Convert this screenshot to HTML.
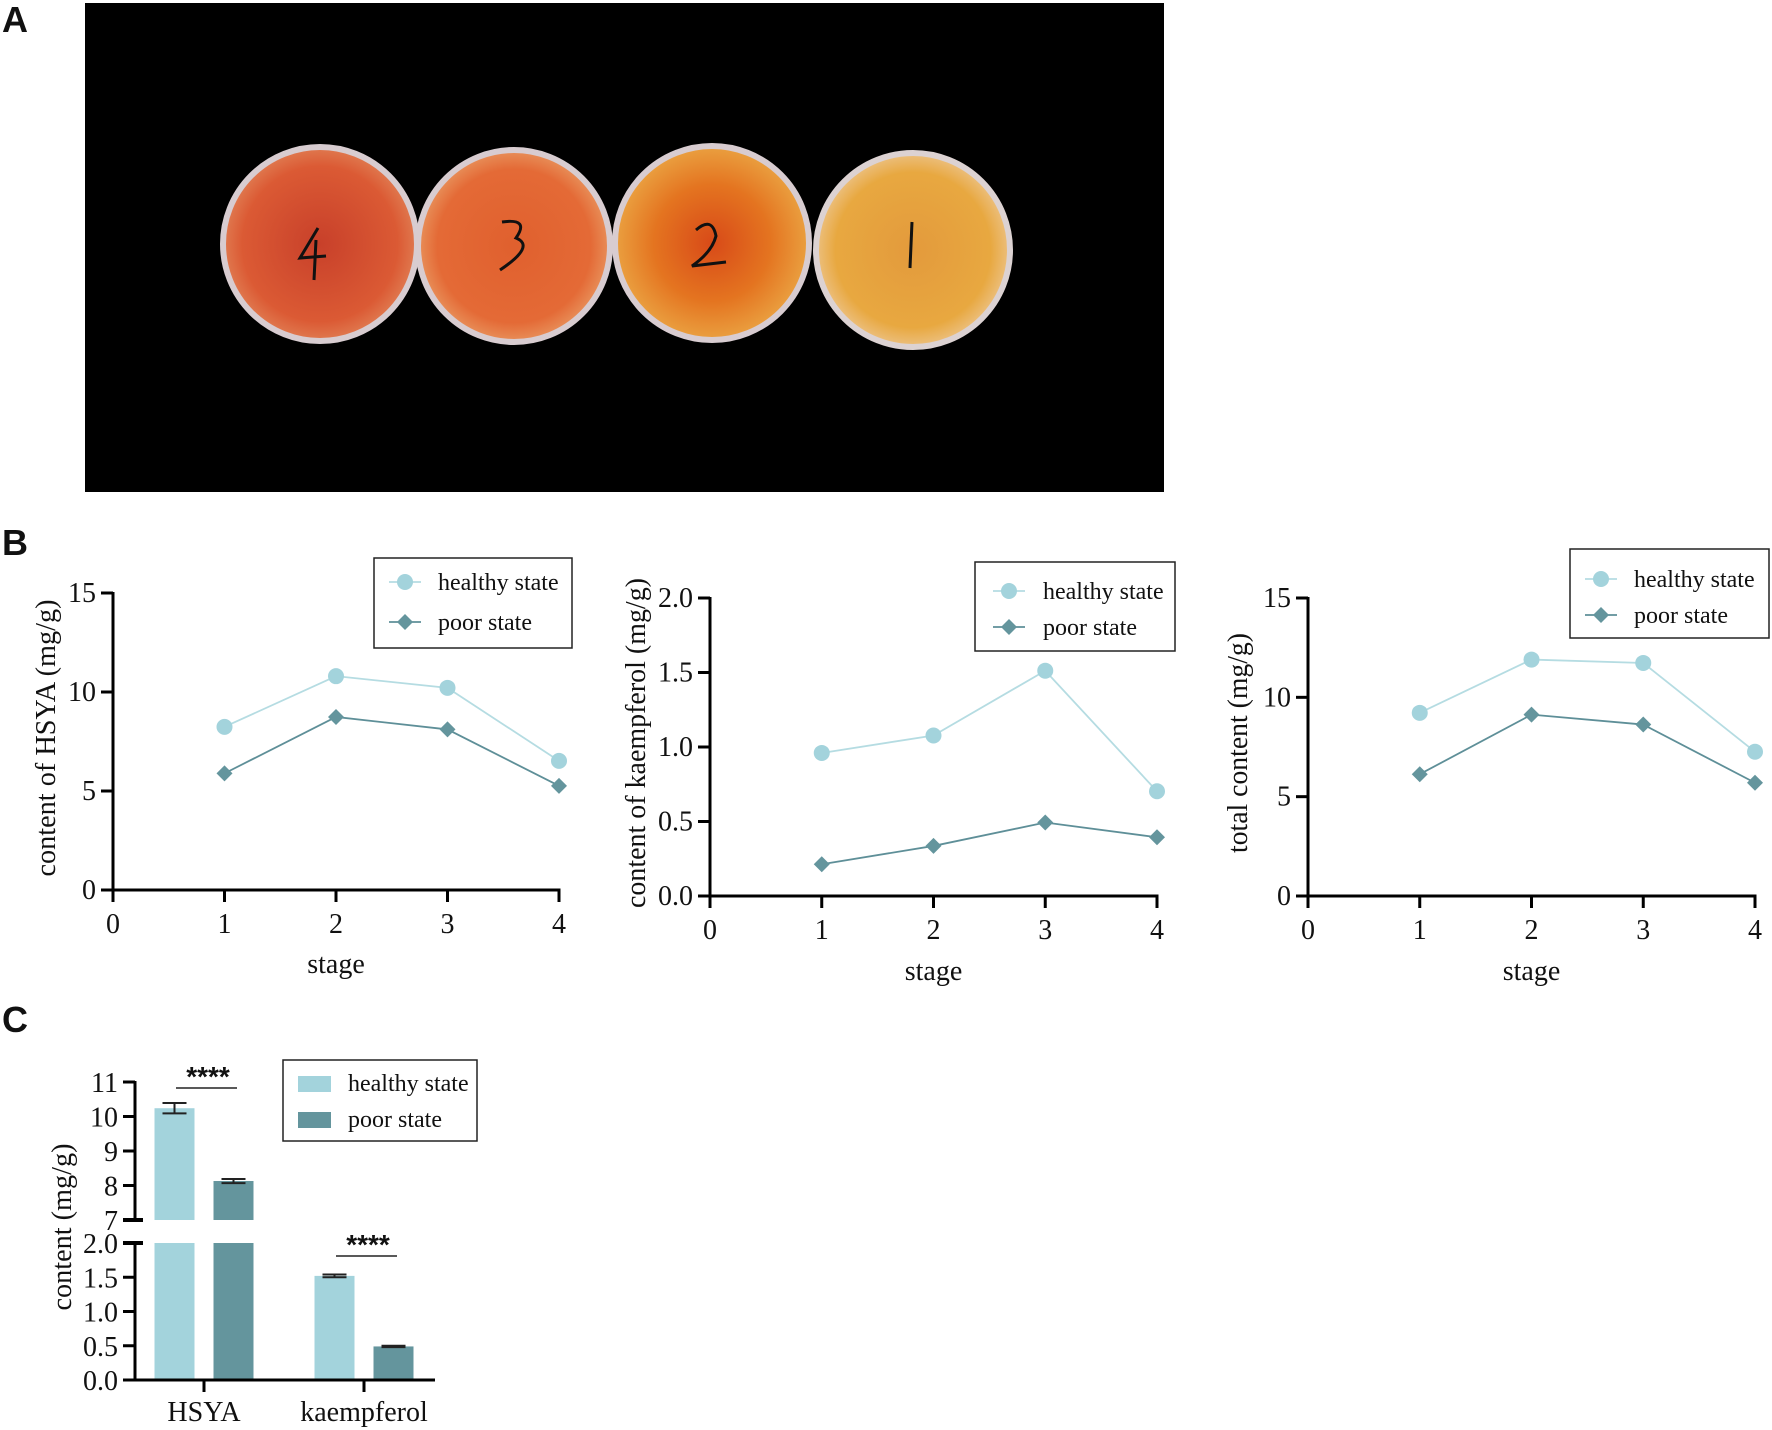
<!DOCTYPE html>
<html><head><meta charset="utf-8"><style>
html,body{margin:0;padding:0;background:#fff;}
svg{display:block;}
text{font-family:"Liberation Serif",serif;fill:#111;}
.pl{font-family:"Liberation Sans",sans-serif;font-weight:bold;font-size:36px;}
</style></head><body>
<svg id="fig" width="1772" height="1430" viewBox="0 0 1772 1430" xmlns="http://www.w3.org/2000/svg">
<defs>
<radialGradient id="g4"><stop offset="0" stop-color="#c8402a"/><stop offset="0.8" stop-color="#db5a34"/><stop offset="1" stop-color="#e07a50"/></radialGradient>
<radialGradient id="g3"><stop offset="0" stop-color="#e0602e"/><stop offset="0.8" stop-color="#e46a36"/><stop offset="1" stop-color="#e8905a"/></radialGradient>
<radialGradient id="g2"><stop offset="0" stop-color="#d84a18"/><stop offset="0.6" stop-color="#e47420"/><stop offset="1" stop-color="#eaa040"/></radialGradient>
<radialGradient id="g1"><stop offset="0" stop-color="#e39a3c"/><stop offset="0.8" stop-color="#e8a840"/><stop offset="1" stop-color="#ecc080"/></radialGradient>
</defs>
<text class="pl" x="2" y="32">A</text>
<g>
<rect x="85" y="3" width="1079" height="489" fill="#000"/>
<g><circle cx="320" cy="244" r="97" fill="url(#g4)" stroke="#d8ccd0" stroke-width="6"/><path d="M318 228 L300 258 L326 256 M316 240 L314 280" stroke="#111" stroke-width="3" fill="none"/></g>
<g><circle cx="514" cy="246" r="96" fill="url(#g3)" stroke="#d8ccd0" stroke-width="6"/><path d="M502 222 Q530 218 516 238 Q536 246 500 270" stroke="#111" stroke-width="3" fill="none"/></g>
<g><circle cx="712" cy="243" r="97" fill="url(#g2)" stroke="#d8ccd0" stroke-width="6"/><path d="M696 230 Q712 216 716 236 Q712 252 692 266 L726 262" stroke="#111" stroke-width="3" fill="none"/></g>
<g><circle cx="913" cy="250" r="97" fill="url(#g1)" stroke="#dcd2d2" stroke-width="6"/><path d="M912 222 L910 268" stroke="#111" stroke-width="3" fill="none"/></g>
</g>
<text class="pl" x="2" y="555">B</text>
<text class="pl" x="2" y="1032">C</text>
<g id="charts"></g>
</svg>
<script>
// ---------- Panel B data ----------
const stages = [1, 2, 3, 4];
const xTicks = [0, 1, 2, 3, 4];
const hsyaHealthy = [8.24, 10.8, 10.21, 6.52];
const hsyaPoor = [5.89, 8.74, 8.11, 5.26];
const kaeHealthy = [0.96, 1.077, 1.512, 0.703];
const kaePoor = [0.213, 0.336, 0.493, 0.394];
const totHealthy = [9.22, 11.9, 11.73, 7.26];
const totPoor = [6.13, 9.13, 8.63, 5.70];
const ticks15 = [0, 5, 10, 15];
const ticks2 = [0, 0.5, 1.0, 1.5, 2.0];
const tickLabels2 = ["0.0", "0.5", "1.0", "1.5", "2.0"];
// ---------- Panel C data ----------
const barCategories = ["HSYA", "kaempferol"];
const barHealthy = [10.24, 1.52];
const barPoor = [8.13, 0.49];
const errHealthy = [0.15, 0.02];
const errPoor = [0.06, 0.01];
const upperTicks = [7, 8, 9, 10, 11];
const lowerTicks = [0, 0.5, 1.0, 1.5, 2.0];
const lowerTickLabels = ["0.0", "0.5", "1.0", "1.5", "2.0"];
const sigLabels = ["****", "****"];

const NS = "http://www.w3.org/2000/svg";
const root = document.getElementById("charts");
const HC = "#a3d3dc", PC = "#64959d", HL = "#b5dce2", PL = "#5e8f98";
function mk(tag, attrs, parent) {
  const e = document.createElementNS(NS, tag);
  for (const k in attrs) e.setAttribute(k, attrs[k]);
  (parent || root).appendChild(e);
  return e;
}
function txt(s, attrs, parent) { const t = mk("text", attrs, parent); t.textContent = s; return t; }

function lineChart(cfg) {
  const g = mk("g", {});
  
  
  const X = v => cfg.x0 + (v - 0) * (cfg.x4 - cfg.x0) / 4;
  const Y = v => cfg.y0 - v * (cfg.y0 - cfg.yTop) / cfg.ymax;
  // axes
  const ya = mk("line", {x1: cfg.x0, y1: cfg.yTop - 1, x2: cfg.x0, y2: cfg.y0 + 1.5, stroke: "#000", "stroke-width": 3}, g);
  
  
  const xa = mk("line", {x1: cfg.x0 - 12, y1: cfg.y0, x2: cfg.x4 + 1.5, y2: cfg.y0, stroke: "#000", "stroke-width": 3}, g);
  
  
  cfg.yticks.forEach((v, i) => {
    mk("line", {x1: cfg.x0 - 12, y1: Y(v), x2: cfg.x0, y2: Y(v), stroke: "#000", "stroke-width": 3}, g);
    const t = txt(cfg.ylabels[i], {x: cfg.x0 - 17, y: Y(v) + 9, "font-size": 28, "text-anchor": "end"}, g);
    
    
  });
  xTicks.forEach(v => {
    mk("line", {x1: X(v), y1: cfg.y0, x2: X(v), y2: cfg.y0 + 12, stroke: "#000", "stroke-width": 3}, g);
    const t = txt(String(v), {x: X(v), y: cfg.y0 + 43, "font-size": 28, "text-anchor": "middle"}, g);
    
    
  });
  const xt = txt("stage", {x: (cfg.x0 + cfg.x4) / 2, y: cfg.stageY, "font-size": 28, "text-anchor": "middle"}, g);
  
  
  const yt = txt(cfg.ytitle, {x: 0, y: 0, "font-size": 28, "text-anchor": "middle", textLength: cfg.ylen, lengthAdjust: "spacingAndGlyphs",
    transform: `translate(${cfg.ylx + 9},${cfg.yly}) rotate(-90)`}, g);
  
  
  // series
  const series = [[cfg.healthy, HL, HC, "healthy"], [cfg.poor, PL, PC, "poor"]];
  series.forEach(([vals, lc, mc, nm]) => {
    const pts = stages.map((s, i) => X(s) + "," + Y(vals[i])).join(" ");
    const pl = mk("polyline", {points: pts, fill: "none", stroke: lc, "stroke-width": 1.8}, g);
    
    
    stages.forEach((s, i) => {
      const cx = X(s), cy = Y(vals[i]);
      let m;
      if (nm === "healthy") m = mk("circle", {cx, cy, r: 8, fill: mc}, g);
      else m = mk("path", {d: `M${cx} ${cy - 8}L${cx + 8} ${cy}L${cx} ${cy + 8}L${cx - 8} ${cy}Z`, fill: mc}, g);
      
      
    });
  });
  // legend
  const L = cfg.leg;
  const lg = mk("g", {}, g);
  
  
  mk("rect", {x: L.x, y: L.y, width: L.w, height: L.h, fill: "#fff", stroke: "#222", "stroke-width": 1.5}, lg);
  [[L.my1, HL, HC, "healthy state", 119], [L.my2, PL, PC, "poor state", 95]].forEach(([my, lc, mc, lab, w], k) => {
    const e = mk("g", {}, lg);
    
    
    mk("line", {x1: L.mx - 16, y1: my, x2: L.mx + 16, y2: my, stroke: lc, "stroke-width": 1.8}, e);
    if (k === 0) mk("circle", {cx: L.mx, cy: my, r: 8, fill: mc}, e);
    else mk("path", {d: `M${L.mx} ${my - 8}L${L.mx + 8} ${my}L${L.mx} ${my + 8}L${L.mx - 8} ${my}Z`, fill: mc}, e);
    txt(lab, {x: L.tx, y: my + 8, "font-size": 24}, e);
  });
}

lineChart({name: "hsya-line-chart", x0: 113, x4: 559, y0: 890, yTop: 593, ymax: 15, yticks: ticks15, ylabels: ticks15.map(String),
  healthy: hsyaHealthy, poor: hsyaPoor, stageY: 973, ytitle: "content of HSYA (mg/g)", ylx: 46, yly: 738, ylen: 277,
  leg: {x: 374, y: 558, w: 198, h: 90, mx: 405, my1: 582, my2: 622, tx: 438}});
lineChart({name: "kaempferol-line-chart", x0: 710, x4: 1157, y0: 896, yTop: 598, ymax: 2, yticks: ticks2, ylabels: tickLabels2,
  healthy: kaeHealthy, poor: kaePoor, stageY: 980, ytitle: "content of kaempferol (mg/g)", ylx: 636, yly: 743, ylen: 330,
  leg: {x: 975, y: 562, w: 200, h: 89, mx: 1009, my1: 591, my2: 627, tx: 1043}});
lineChart({name: "total-content-line-chart", x0: 1308, x4: 1755, y0: 896, yTop: 598, ymax: 15, yticks: ticks15, ylabels: ticks15.map(String),
  healthy: totHealthy, poor: totPoor, stageY: 980, ytitle: "total content (mg/g)", ylx: 1238, yly: 743, ylen: 220,
  leg: {x: 1570, y: 549, w: 199, h: 89, mx: 1601, my1: 579, my2: 615, tx: 1634}});

// ---------- Panel C bar chart ----------
(function () {
  const g = mk("g", {});
  
  
  const ax = 135, uTop = 1082, uBot = 1220, lTop = 1243, lBot = 1380;
  const Yu = v => uBot - (v - 7) * (uBot - uTop) / 4;
  const Yl = v => lBot - v * (lBot - lTop) / 2;
  const catX = [204, 364];
  const bw = 40, gap = 59;
  // bars
  barCategories.forEach((c, i) => {
    [[barHealthy[i], errHealthy[i], HC, -1, "healthy"], [barPoor[i], errPoor[i], PC, 1, "poor"]].forEach(([v, e, col, side, nm]) => {
      const cx = catX[i] + side * gap / 2 - (side < 0 ? 0 : 0);
      const x = cx - bw / 2;
      if (v > 2) {
        const b1 = mk("rect", {x, y: lTop, width: bw, height: lBot - lTop, fill: col}, g);
        
        
        const b2 = mk("rect", {x, y: Yu(v), width: bw, height: uBot - Yu(v), fill: col}, g);
        
        
        const eb = mk("path", {d: `M${cx} ${Yu(v + e)}V${Yu(v - e)}M${cx - 12} ${Yu(v + e)}H${cx + 12}M${cx - 12} ${Yu(v - e)}H${cx + 12}`, stroke: "#222", "stroke-width": 2, fill: "none"}, g);
        
        
      } else {
        const b = mk("rect", {x, y: Yl(v), width: bw, height: lBot - Yl(v), fill: col}, g);
        
        
        const eb = mk("path", {d: `M${cx} ${Yl(v + e)}V${Yl(v - e)}M${cx - 12} ${Yl(v + e)}H${cx + 12}M${cx - 12} ${Yl(v - e)}H${cx + 12}`, stroke: "#222", "stroke-width": 2, fill: "none"}, g);
        
        
      }
    });
    const t = txt(c, {x: catX[i], y: 1421, "font-size": 28, "text-anchor": "middle"}, g);
    
    
    mk("line", {x1: catX[i], y1: lBot, x2: catX[i], y2: lBot + 12, stroke: "#000", "stroke-width": 3}, g);
  });
  // axes
  const ya1 = mk("line", {x1: ax, y1: uTop - 1, x2: ax, y2: uBot, stroke: "#000", "stroke-width": 3}, g);
  
  
  const ya2 = mk("line", {x1: ax, y1: lTop, x2: ax, y2: lBot + 1.5, stroke: "#000", "stroke-width": 3}, g);
  
  
  const xa = mk("line", {x1: 123, y1: lBot, x2: 435, y2: lBot, stroke: "#000", "stroke-width": 3}, g);
  
  
  upperTicks.forEach(v => {
    const x2 = v === 7 ? ax + 8 : ax;
    mk("line", {x1: ax - 12, y1: Yu(v), x2, y2: Yu(v), stroke: "#000", "stroke-width": v === 7 ? 4 : 3}, g);
    const t = txt(String(v), {x: ax - 17, y: Yu(v) + 10, "font-size": 28, "text-anchor": "end"}, g);
    
    
  });
  lowerTicks.forEach((v, i) => {
    const x2 = v === 2 ? ax + 8 : ax;
    mk("line", {x1: ax - 12, y1: Yl(v), x2, y2: Yl(v), stroke: "#000", "stroke-width": v === 2 ? 4 : 3}, g);
    const t = txt(lowerTickLabels[i], {x: ax - 17, y: Yl(v) + 10, "font-size": 28, "text-anchor": "end"}, g);
    
    
  });
  const yt = txt("content (mg/g)", {x: 0, y: 0, "font-size": 28, "text-anchor": "middle", textLength: 167, lengthAdjust: "spacingAndGlyphs",
    transform: "translate(71,1227) rotate(-90)"}, g);
  
  
  // significance
  const sigLineY = [Yu(11) + 6, Yl(2) + 13];
  catX.forEach((cx, i) => {
    const s = mk("g", {}, g);
    
    
    mk("line", {x1: cx - 28, y1: sigLineY[i], x2: cx + 33, y2: sigLineY[i], stroke: "#222", "stroke-width": 1.5}, s);
    txt(sigLabels[i], {x: cx + 4, y: sigLineY[i] - 2, "font-size": 28, "font-weight": "bold", "text-anchor": "middle",
      style: "font-family:'Liberation Sans',sans-serif"}, s);
  });
  // legend
  const lg = mk("g", {}, g);
  
  
  mk("rect", {x: 283, y: 1060, width: 194, height: 81, fill: "#fff", stroke: "#222", "stroke-width": 1.5}, lg);
  [[1076, HC, "healthy state"], [1112, PC, "poor state"]].forEach(([y, col, lab]) => {
    const e = mk("g", {}, lg);
    
    
    mk("rect", {x: 298, y, width: 33, height: 16, fill: col}, e);
    txt(lab, {x: 348, y: y + 15, "font-size": 24}, e);
  });
})();
</script>
</body></html>
